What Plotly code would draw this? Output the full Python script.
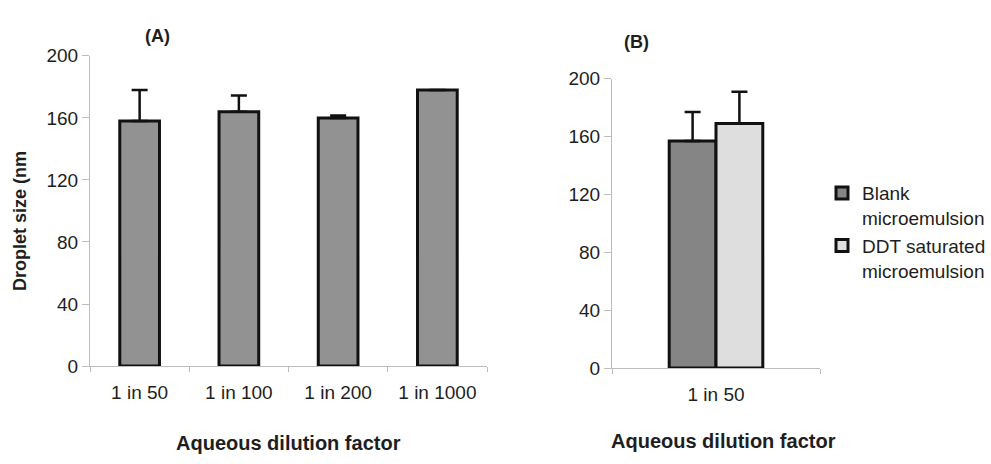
import plotly.graph_objects as go

# ---- data ----
dilutions_a = ["1 in 50", "1 in 100", "1 in 200", "1 in 1000"]
size_a = [158, 164, 160, 178]
err_a = [20, 10.5, 1.5, None]

dilution_b = ["1 in 50"]
blank_b = [157]
blank_err_b = [20]
ddt_b = [169]
ddt_err_b = [22]

y_ticks = [0, 40, 80, 120, 160, 200]

W, H = 991, 464
FONT = "Liberation Sans, Arial, sans-serif"
TXT = "#1e1e1e"
AX = "#bdbdbd"

def px_x(p):
    return p / W

def px_y(p):
    return 1 - p / H

fig = go.Figure()

fig.add_trace(go.Bar(
    x=dilutions_a, y=size_a, width=0.40,
    marker=dict(color="#929292", line=dict(color="#111111", width=3)),
    error_y=dict(type="data", array=err_a, arrayminus=[0] * len(err_a), symmetric=False,
                 color="#111111", thickness=2.5, width=8),
    xaxis="x", yaxis="y", showlegend=False,
))

fig.add_trace(go.Bar(
    x=dilution_b, y=blank_b, width=0.225, offset=-0.225, name="Blank<br>microemulsion",
    marker=dict(color="#858585", line=dict(color="#111111", width=3)),
    error_y=dict(type="data", array=blank_err_b, arrayminus=[0], symmetric=False,
                 color="#111111", thickness=2.5, width=8),
    xaxis="x2", yaxis="y2",
))
fig.add_trace(go.Bar(
    x=dilution_b, y=ddt_b, width=0.225, offset=0.0, name="DDT saturated<br>microemulsion",
    marker=dict(color="#dedede", line=dict(color="#111111", width=3)),
    error_y=dict(type="data", array=ddt_err_b, arrayminus=[0], symmetric=False,
                 color="#111111", thickness=2.5, width=8),
    xaxis="x2", yaxis="y2",
))

axis_common = dict(showline=True, linecolor=AX, linewidth=1, ticks="outside",
                   tickcolor=AX, showgrid=False, zeroline=False,
                   tickfont=dict(family=FONT, size=19, color=TXT))

fig.update_layout(
    width=W, height=H, margin=dict(l=0, r=0, t=0, b=0),
    paper_bgcolor="white", plot_bgcolor="white",
    barmode="overlay",
    xaxis=dict(domain=[px_x(90), px_x(487)], anchor="y", tickson="boundaries", ticklen=5,
               ticklabelstandoff=9, **axis_common),
    yaxis=dict(domain=[px_y(373), px_y(48)], anchor="x", range=[0, 200], tickvals=y_ticks,
               ticklen=7, **axis_common),
    xaxis2=dict(domain=[px_x(612), px_x(820)], anchor="y2", tickson="boundaries", ticklen=5,
                ticklabelstandoff=9, **axis_common),
    yaxis2=dict(domain=[px_y(375), px_y(72)], anchor="x2", range=[0, 200], tickvals=y_ticks,
                ticklen=7, **axis_common),
    legend=dict(x=px_x(822), y=px_y(172), xanchor="left", yanchor="top",
                font=dict(family=FONT, size=19, color=TXT), itemwidth=30,
                valign="top", tracegroupgap=8, bgcolor="rgba(0,0,0,0)"),
    showlegend=True,
)

def ann(text, x, y, size=19, bold=True, angle=0):
    fig.add_annotation(
        text=f"<b>{text}</b>" if bold else text, x=px_x(x), y=px_y(y),
        xref="paper", yref="paper", showarrow=False, textangle=angle,
        xanchor="center", yanchor="middle",
        font=dict(family=FONT, size=size, color=TXT),
    )

ann("(A)", 157, 27, size=18)
ann("(B)", 636, 33, size=18)
ann("Droplet size (nm", 20, 221, size=18, angle=-90)
ann("Aqueous dilution factor", 288, 454, size=20)
ann("Aqueous dilution factor", 723, 451, size=20)

fig.write_html("out.html")
